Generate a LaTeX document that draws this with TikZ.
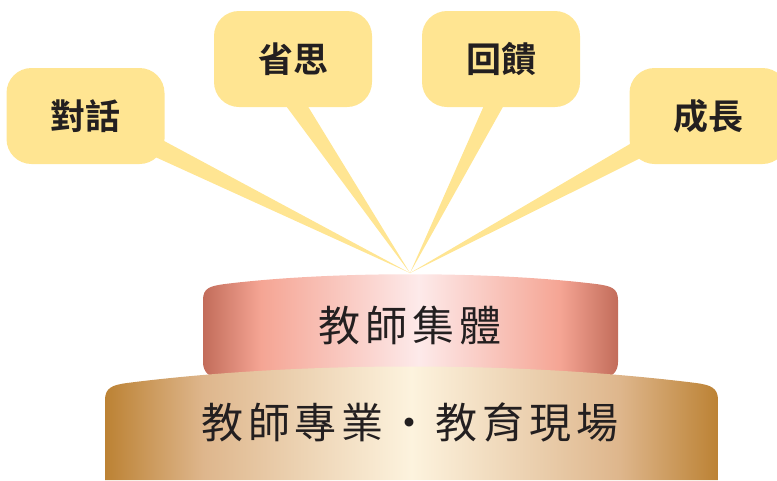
\documentclass[tikz,border=0pt]{standalone}
\usepackage{fontspec}
\usetikzlibrary{calc}
\newfontfamily\cjk[BoldFont={* Bold}]{Noto Sans CJK TC}
\definecolor{bubblefill}{RGB}{255,229,146}
\definecolor{ink}{RGB}{35,31,32}
\definecolor{pinkedge}{RGB}{194,108,90}
\definecolor{pinkmid}{RGB}{245,165,148}
\definecolor{pinkctr}{RGB}{253,234,234}
\definecolor{goldedge}{RGB}{188,130,52}
\definecolor{goldmid}{RGB}{222,182,140}
\definecolor{goldctr}{RGB}{253,243,222}
\pgfdeclarehorizontalshading{pinkband}{100bp}{color(0bp)=(pinkedge); color(25bp)=(pinkedge); color(32bp)=(pinkmid); color(51bp)=(pinkctr); color(68bp)=(pinkmid); color(75bp)=(pinkedge); color(100bp)=(pinkedge)}
\pgfdeclarehorizontalshading{goldband}{100bp}{color(0bp)=(goldedge); color(25bp)=(goldedge); color(33bp)=(goldmid); color(50bp)=(goldctr); color(67bp)=(goldmid); color(75bp)=(goldedge); color(100bp)=(goldedge)}

\begin{document}
\begin{tikzpicture}[x=1pt,y=-1pt,
  bubble/.style={fill=bubblefill, rounded corners=25pt, minimum width=158pt, minimum height=96pt,
    text=ink, font=\cjk\bfseries\fontsize{35}{35}\selectfont},
  tail/.style={fill=bubblefill},
  band/.style={text=ink, font=\cjk\fontsize{42}{42}\selectfont}]
\useasboundingbox (0,0) rectangle (777,480);
\coordinate (apex) at (410,273);
% bubbles
\node[bubble] (dui) at (85.5,116) {對話};
\node[bubble] (xing) at (293,59) {省思};
\node[bubble] (hui) at (501,59) {回饋};
\node[bubble] (cheng) at (708.5,116) {成長};
% tails
\fill[tail] ($(dui.south east)+(-2,-24)$) -- (apex) -- ($(dui.south east)+(-9,-7)$) -- cycle;
\fill[tail] ($(xing.south)+(-9,-4)$) -- (apex) -- ($(xing.south)+(13,-4)$) -- cycle;
\fill[tail] ($(hui.south)+(-16,-4)$) -- (apex) -- ($(hui.south)+(4,-4)$) -- cycle;
\fill[tail] ($(cheng.south west)+(2,-21)$) -- (apex) -- ($(cheng.south west)+(11,-6)$) -- cycle;
% upper band
\shade[shading=pinkband] (203,362) -- (203,300) .. controls (203,288) and (210,286) .. (225,284)
  .. controls (330,271) and (490,271) .. (596,284) .. controls (611,286) and (618,288) .. (618,300)
  -- (618,362) .. controls (618,372) and (612,378) .. (600,378) -- (221,378) .. controls (209,378) and (203,372) .. (203,362) -- cycle;
\node[band] (ji) at (410,326) {教\hspace{5pt}師\hspace{5pt}集\hspace{5pt}體};
% lower band
\shade[shading=goldband] (105,480) -- (105,400) .. controls (105,388) and (112,385) .. (127,383)
  .. controls (300,361) and (520,361) .. (696,383) .. controls (711,385) and (718,388) .. (718,400)
  -- (718,480) -- cycle;
\node[band] (zhuan) at (410,422) {教\hspace{5pt}師\hspace{5pt}專\hspace{5pt}業\hspace{5pt}・\hspace{5pt}教\hspace{5pt}育\hspace{5pt}現\hspace{5pt}場};
\end{tikzpicture}
\end{document}
